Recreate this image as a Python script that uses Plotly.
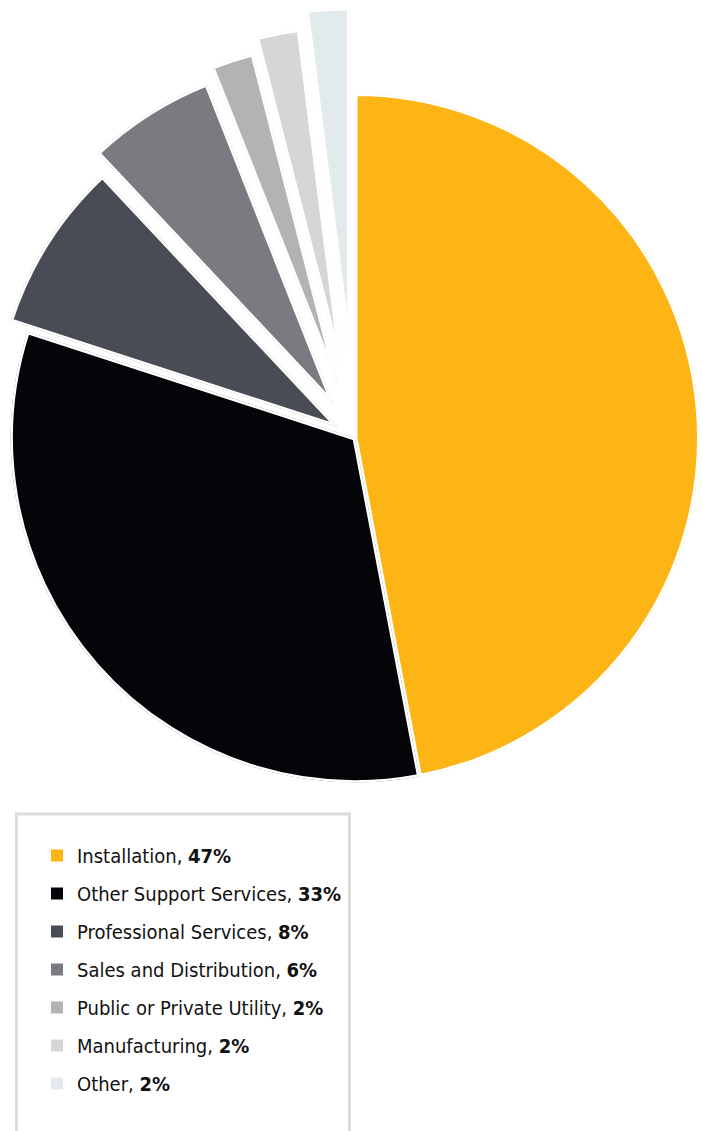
import math
import plotly.graph_objects as go

# Share of workers by sector
sectors = [
    "Installation",
    "Other Support Services",
    "Professional Services",
    "Sales and Distribution",
    "Public or Private Utility",
    "Manufacturing",
    "Other",
]
shares = [47, 33, 8, 6, 2, 2, 2]

# Styling: slice colours and how far each slice is pulled out from the centre (px)
colors = ["#FDB515", "#050509", "#494C54", "#797B80", "#B1B3B4", "#D6D6D5", "#E2EAEC"]
pull_px = [0, 0, 20, 40, 53, 68, 86]

W, H = 703, 1131
cx, cy = 355, 438        # pie centre (px)
R = 344.5                # slice radius (px), outline included
GAP = 5                  # white outline between slices
RMAX = 100               # radial range of every polar subplot


def sector_bbox(a0, a1):
    """Bounding box of a polar sector on the unit circle (same rule plotly uses)."""
    ax0, ay0 = math.cos(math.radians(a0)), math.sin(math.radians(a0))
    ax1, ay1 = math.cos(math.radians(a1)), math.sin(math.radians(a1))
    if (a0 <= 90 <= a1) or (a0 > 90 and a1 >= 450):
        y1 = 1
    elif ay0 <= 0 and ay1 <= 0:
        y1 = 0
    else:
        y1 = max(ay0, ay1)
    if (a0 <= 180 <= a1) or (a0 > 180 and a1 >= 540):
        x0 = -1
    elif ax0 >= 0 and ax1 >= 0:
        x0 = 0
    else:
        x0 = min(ax0, ax1)
    if (a0 <= 270 <= a1) or (a0 > 270 and a1 >= 630):
        y0 = -1
    elif ay0 >= 0 and ay1 >= 0:
        y0 = 0
    else:
        y0 = min(ay0, ay1)
    if a1 >= 360:
        x1 = 1
    elif ax0 <= 0 and ax1 <= 0:
        x1 = 0
    else:
        x1 = max(ax0, ax1)
    return x0, y0, x1, y1


def polar_layout(sector, ox, oy):
    """Polar subplot limited to `sector`, with its pole at pixel (ox, oy)."""
    x0, y0, x1, y1 = sector_bbox(*sector)
    return dict(
        domain=dict(x=[max(0, (ox + x0 * R) / W), min(1, (ox + x1 * R) / W)],
                    y=[max(0, 1 - (oy - y0 * R) / H), min(1, 1 - (oy - y1 * R) / H)]),
        sector=list(sector),
        bgcolor="rgba(0,0,0,0)",
        radialaxis=dict(visible=False, range=[0, RMAX]),
        angularaxis=dict(visible=False, direction="clockwise", rotation=90),
        bargap=0,
    )


fig = go.Figure()
layout_polars = {}

# Each slice sits in its own polar subplot, restricted to the slice's
# angular span and centred on the tip of the exploded slice.
total = sum(shares)
start = 0.0
for i, (name, pct, col, pull) in enumerate(zip(sectors, shares, colors, pull_px)):
    sweep = 360.0 * pct / total
    mid = math.radians(start + sweep / 2)
    tip_x = cx + pull * math.sin(mid)
    tip_y = cy - pull * math.cos(mid)
    sub = "polar" if i == 0 else f"polar{i + 1}"
    a0 = (90 - (start + sweep)) % 360
    layout_polars[sub] = polar_layout((a0, a0 + sweep), tip_x, tip_y)
    fig.add_trace(go.Barpolar(
        r=[RMAX],
        theta=[start + sweep / 2],
        width=[sweep],
        name=name,
        subplot=sub,
        showlegend=False,
        marker=dict(color=col, line=dict(color="white", width=GAP)),
        hovertemplate=f"{name}: {pct}%<extra></extra>",
    ))
    start += sweep

# Legend entries: square swatch + label with the bold share
for name, pct, col in zip(sectors, shares, colors):
    fig.add_trace(go.Scatterpolar(
        r=[None], theta=[None], mode="markers",
        subplot="polar",
        name=f"{name}, <b>{pct}%</b>",
        legendgroup=name,
        marker=dict(symbol="square", size=12, color=col, line=dict(width=0)),
        hoverinfo="skip",
    ))

fig.update_layout(
    width=W, height=H,
    margin=dict(l=0, r=0, t=0, b=0),
    paper_bgcolor="white",
    plot_bgcolor="white",
    **layout_polars,
    legend=dict(
        x=37 / W, y=1 - 836 / H, xanchor="left", yanchor="top",
        font=dict(family="DejaVu Sans Condensed, Roboto Condensed, Roboto",
                  size=20, color="#111111"),
        tracegroupgap=9,
        bgcolor="rgba(0,0,0,0)",
        borderwidth=0,
        itemclick=False, itemdoubleclick=False,
    ),
    showlegend=True,
    shapes=[dict(
        type="rect", xref="paper", yref="paper",
        x0=16.5 / W, x1=349.5 / W, y0=-0.05, y1=1 - 814 / H,
        line=dict(color="#DCDCDC", width=3), fillcolor="rgba(0,0,0,0)",
        layer="below",
    )],
)

fig.write_html("out.html")
